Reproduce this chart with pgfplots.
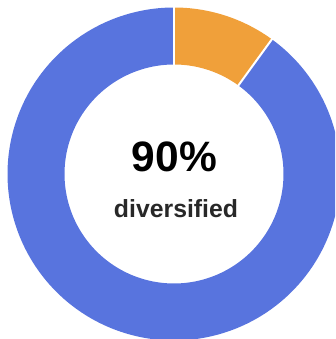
\documentclass[border=0pt]{standalone}
\usepackage{fontspec}
\setmainfont{Liberation Sans}
\usepackage{pgfplots}
\pgfplotsset{compat=1.18}
\definecolor{ringblue}{RGB}{88,116,222}
\definecolor{ringorange}{RGB}{240,160,58}
\definecolor{txt}{RGB}{40,40,40}
\begin{document}
\begin{tikzpicture}
\begin{axis}[
  name=donut,
  scale only axis, width=335pt, height=339pt,
  xmin=-174, xmax=161, ymin=-165, ymax=174,
  hide axis, clip=true,
]
% shares: other = 10, diversified = 90 (percent); clockwise from top
\addplot[ringorange, line width=57pt, line cap=butt, domain=90:{90-3.6*10}, samples=60, variable=\t]
  ({138*cos(t)},{138*sin(t)});
\addplot[ringblue, line width=57pt, line cap=butt, domain={90-3.6*10}:{90-3.6*100}, samples=240, variable=\t]
  ({138*cos(t)},{138*sin(t)});
\addplot[white, line width=2pt] coordinates {(0,105) (0,171)};
\addplot[white, line width=2pt] coordinates {(61.7,84.9) (100.5,138.3)};
\node[anchor=base, font=\bfseries\fontsize{42.5}{42}\selectfont, text=black] at (axis cs:0.5,2.3) {90\%};
\node[anchor=base, font=\bfseries\fontsize{24.8}{24}\selectfont, text=txt] at (axis cs:2,-43.3) {diversified};
\end{axis}
\pgfresetboundingbox
\path[use as bounding box] (donut.south west) rectangle (donut.north east);
\end{tikzpicture}
\end{document}
